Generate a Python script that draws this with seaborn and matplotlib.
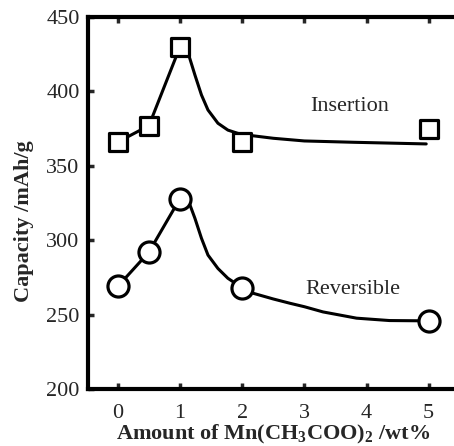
import matplotlib
matplotlib.use("Agg")
import matplotlib.pyplot as plt
import seaborn as sns
import pandas as pd

# Measured data
x_pts = [0, 0.5, 1, 2, 5]
insertion = [366, 377, 430, 366, 375]
reversible = [269, 292, 328, 268, 246]

# Guide curves
ins_curve_x = [0, 0.5, 1, 1.07, 1.14, 1.24, 1.345, 1.45, 1.61, 1.77, 1.93, 2.15, 2.5, 3.0, 3.8, 4.96]
ins_curve_y = [366, 377, 430, 428, 424.5, 411, 397.6, 387.5, 378.6, 374, 371.8, 370.3, 368.5, 366.7, 365.8, 364.7]
rev_curve_x = [0, 0.5, 1, 1.08, 1.16, 1.24, 1.345, 1.45, 1.61, 1.77, 2.0, 2.18, 2.5, 2.77, 3.0, 3.3, 3.84, 4.37, 5]
rev_curve_y = [269, 292, 328, 327, 323.7, 314.7, 301.3, 290, 281, 274.4, 268, 264.3, 260.5, 257.6, 255.3, 251.8, 247.6, 246, 245.8]

x_ticks = [0, 1, 2, 3, 4, 5]
y_ticks = [200, 250, 300, 350, 400, 450]

sns.set_style("ticks")
plt.rcParams['font.family'] = ['Liberation Serif', 'DejaVu Serif']
plt.rcParams['mathtext.fontset'] = 'custom'
plt.rcParams['mathtext.rm'] = 'Liberation Serif'
plt.rcParams['mathtext.bf'] = 'Liberation Serif:bold'

fig = plt.figure(figsize=(4.54, 4.46), dpi=100)
ax = fig.add_axes([88/454, 57/446, 378/454, 372/446])

df_ic = pd.DataFrame({"x": ins_curve_x, "y": ins_curve_y})
df_rc = pd.DataFrame({"x": rev_curve_x, "y": rev_curve_y})
sns.lineplot(data=df_ic, x="x", y="y", ax=ax, color="black", lw=2.2, sort=False, estimator=None)
sns.lineplot(data=df_rc, x="x", y="y", ax=ax, color="black", lw=2.2, sort=False, estimator=None)

df_i = pd.DataFrame({"x": x_pts, "y": insertion})
df_r = pd.DataFrame({"x": x_pts, "y": reversible})
sns.scatterplot(data=df_i, x="x", y="y", ax=ax, marker="s", s=160, facecolor="white",
                edgecolor="black", linewidth=2.3, zorder=5)
sns.scatterplot(data=df_r, x="x", y="y", ax=ax, marker="o", s=230, facecolor="white",
                edgecolor="black", linewidth=2.3, zorder=5)

ax.text(3.73, 390, "Insertion", ha="center", va="center", fontsize=16)
ax.text(3.78, 267, "Reversible", ha="center", va="center", fontsize=16)

ax.set_xlim(-0.48, 5.6)
ax.set_ylim(200, 450)
ax.set_xticks(x_ticks)
ax.set_yticks(y_ticks)
ax.tick_params(axis="both", direction="in", length=4, width=2.5, labelsize=16,
               top=True, right=False)
ax.tick_params(axis="x", pad=11)
ax.tick_params(axis="y", pad=6)
for s in ["left", "bottom", "top", "right"]:
    ax.spines[s].set_linewidth(3)
    ax.spines[s].set_color("black")

ax.set_xlabel(r"Amount of Mn(CH$_{\mathbf{3}}$COO)$_{\mathbf{2}}$ /wt%", fontsize=16,
              fontweight="bold")
ax.set_ylabel("Capacity /mAh/g", fontsize=16, fontweight="bold")
ax.xaxis.set_label_coords(0.49, -0.09)
ax.yaxis.set_label_coords(-0.142, 0.45)

fig.savefig("out.png", dpi=100)
